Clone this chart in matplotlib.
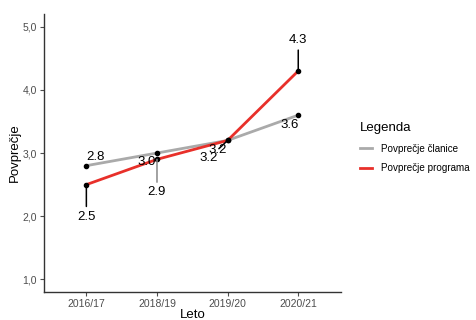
import matplotlib.pyplot as plt
import numpy as np

plt.rcParams['font.family'] = ['Liberation Sans', 'DejaVu Sans']

# podatki
leta = ['2016/17', '2018/19', '2019/20', '2020/21']
clanice = [2.8, 3.0, 3.2, 3.6]
programa = [2.5, 2.9, 3.2, 4.3]

# odmiki oznak (v pikslih) in barve povezav
odmik_clanice = [(9, 9), (-10, -9), (-10, -10), (-9, -10)]
odmik_programa = [(0, -32), (0, -33), (-19, -18), (0, 31)]
segment_programa = ['black', '#888888', 'black', 'black']

fig = plt.figure(figsize=(4.76, 3.2), dpi=100)
ax = fig.add_axes([0.0924, 0.0875, 0.6232, 0.8685])

x = np.arange(len(leta))
ax.plot(x, clanice, color='#AAAAAA', lw=2, label='Povprečje članice', zorder=2)
ax.plot(x, programa, color='#E8302A', lw=2, label='Povprečje programa', zorder=3)
ax.scatter(x, clanice, s=9, color='black', zorder=4)
ax.scatter(x, programa, s=9, color='black', zorder=4)

for xi, v, off in zip(x, clanice, odmik_clanice):
    ax.annotate(f'{v:.1f}', (xi, v), xytext=off, textcoords='offset pixels',
                ha='center', va='center', fontsize=9.5, color='black', zorder=5)
for xi, v, off, c in zip(x, programa, odmik_programa, segment_programa):
    ax.annotate(f'{v:.1f}', (xi, v), xytext=off, textcoords='offset pixels',
                ha='center', va='center', fontsize=9.5, color='black', zorder=5,
                arrowprops=dict(arrowstyle='-', color=c, lw=1.1, shrinkA=1, shrinkB=0))

ax.set_xlim(-0.6, 3.6)
ax.set_ylim(0.8, 5.2)
ax.set_xticks(x)
ax.set_xticklabels(leta)
ax.set_yticks([1, 2, 3, 4, 5])
ax.set_yticklabels(['1,0', '2,0', '3,0', '4,0', '5,0'])
ax.tick_params(colors='#4D4D4D', labelsize=7.5, length=3, width=0.8)
ax.tick_params(axis='x', pad=2)
ax.tick_params(axis='y', pad=2)
for s in ['top', 'right']:
    ax.spines[s].set_visible(False)
for s in ['left', 'bottom']:
    ax.spines[s].set_color('#333333')
    ax.spines[s].set_linewidth(1)

ax.set_xlabel('Leto', fontsize=9.5, labelpad=0)
ax.set_ylabel('Povprečje', fontsize=9.5, labelpad=1)

leg = fig.legend(loc='upper left', bbox_to_anchor=(0.738, 0.645), frameon=False,
                 title='Legenda', fontsize=7.1, title_fontsize=9.5,
                 handlelength=1.2, handletextpad=0.9, labelspacing=0.95)
leg._legend_box.align = 'left'

fig.savefig('out.png', dpi=100)
